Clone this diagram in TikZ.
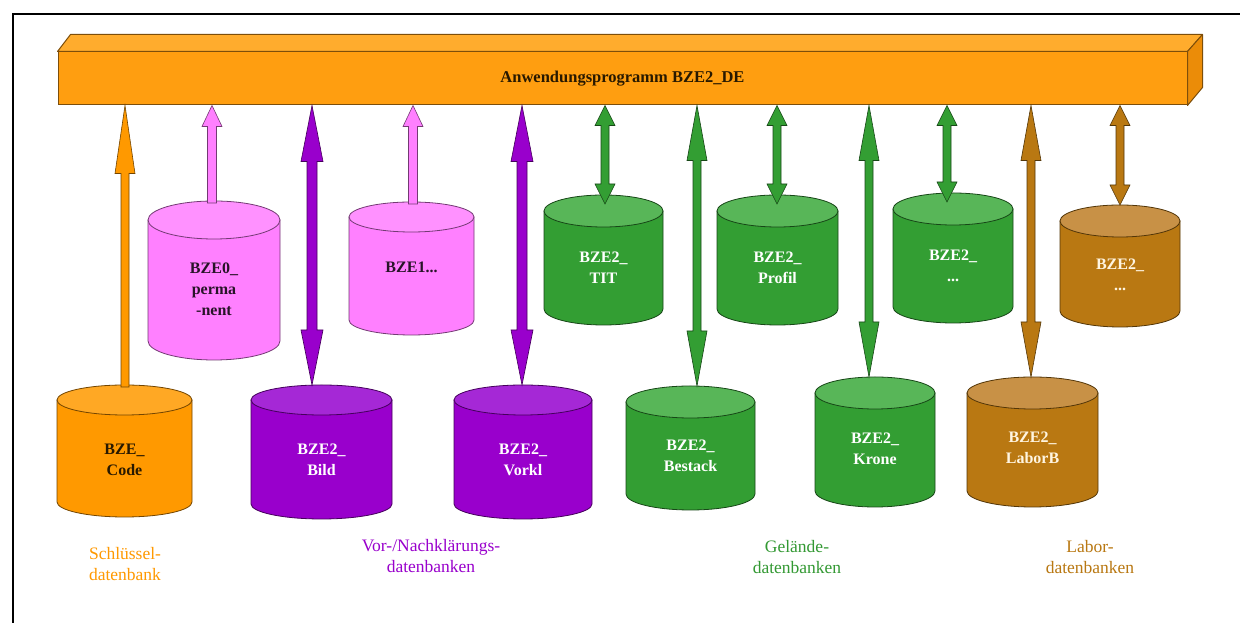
\documentclass[tikz,border=0pt]{standalone}
\usepackage{fontspec}
\setmainfont{Liberation Serif}
\usetikzlibrary{calc}
\definecolor{orgbody}{RGB}{255,153,0}
\definecolor{orgtop}{RGB}{255,168,36}
\definecolor{orgtext}{RGB}{40,25,0}
\definecolor{pnkbody}{RGB}{255,128,255}
\definecolor{pnktop}{RGB}{255,145,255}
\definecolor{pnktext}{RGB}{40,20,40}
\definecolor{prpbody}{RGB}{153,0,204}
\definecolor{prptop}{RGB}{165,40,214}
\definecolor{prptext}{RGB}{255,255,255}
\definecolor{grnbody}{RGB}{51,158,51}
\definecolor{grntop}{RGB}{88,182,88}
\definecolor{grntext}{RGB}{255,255,255}
\definecolor{brnbody}{RGB}{185,120,18}
\definecolor{brntop}{RGB}{200,145,70}
\definecolor{brntext}{RGB}{255,245,225}
\definecolor{barfront}{RGB}{255,158,16}
\definecolor{bartop}{RGB}{255,172,45}
\definecolor{barside}{RGB}{235,140,8}
\definecolor{baredge}{RGB}{125,78,10}
\definecolor{lblorg}{RGB}{255,153,0}
\definecolor{lblprp}{RGB}{153,0,204}
\definecolor{lblgrn}{RGB}{51,153,51}
\definecolor{lblbrn}{RGB}{185,120,18}
\tikzset{
  cyltext/.style={font=\bfseries\fontsize{16}{21}\selectfont, align=center, inner sep=0pt},
  grouplabel/.style={font=\fontsize{17.5}{21.5}\selectfont, align=center, inner sep=0pt},
  barface/.style={draw=baredge, line width=1pt, fill=barfront, minimum width=1129pt,
    minimum height=53pt, inner sep=0pt, font=\bfseries\fontsize{16.5}{20}\selectfont, text=orgtext},
  arrowshape/.style={line width=0.6pt, line join=miter}
}
% #1 name, #2 x left, #3 x right, #4 y top (px), #5 y bottom (px), #6 ry, #7 colour, #8 text y (px), #9 text
\newcommand\dbcyl[9]{%
  \pgfmathsetmacro\cylcx{(#2+#3)/2}%
  \pgfmathsetmacro\cylrx{(#3-#2)/2}%
  \pgfmathsetmacro\cylyt{623-#4-#6}%
  \pgfmathsetmacro\cylyb{623-#5+#6}%
  \filldraw[fill=#7body, draw=#7body!45!black, line width=0.8pt]
    (#2,\cylyt) -- (#2,\cylyb) arc[start angle=180, end angle=360, x radius=\cylrx, y radius=#6]
    -- (#3,\cylyt) -- cycle;
  \filldraw[fill=#7top, draw=#7body!45!black, line width=0.8pt]
    (\cylcx,\cylyt) ellipse[x radius=\cylrx, y radius=#6];
  \coordinate (#1-top) at (\cylcx,{623-#4});
  \node[cyltext, text=#7text] (#1) at (\cylcx,{623-#8}) {#9};
}
% up arrow: #1 cyl top coordinate, #2 x, #3 colour, #4 shaft half width, #5 head half width, #6 head length
\newcommand\arrUp[6]{%
  \filldraw[arrowshape, fill=#3body, draw=#3body!45!black]
    let \p1=(#1), \p2=(bar.south) in
    ({(#2-#4)*1pt},{\y1-2pt}) -- ({(#2-#4)*1pt},{\y2-#6*1pt}) -- ({(#2-#5)*1pt},{\y2-#6*1pt})
    -- ({#2*1pt},\y2) -- ({(#2+#5)*1pt},{\y2-#6*1pt}) -- ({(#2+#4)*1pt},{\y2-#6*1pt})
    -- ({(#2+#4)*1pt},{\y1-2pt}) -- cycle;
}
% double arrow: #1 cyl top, #2 x, #3 colour, #4 shaft hw, #5 head hw, #6 top head len, #7 bottom head len, #8 tip depth
\newcommand\arrBoth[8]{%
  \filldraw[arrowshape, fill=#3body, draw=#3body!45!black]
    let \p1=(#1), \p2=(bar.south) in
    ({#2*1pt},\y2) -- ({(#2+#5)*1pt},{\y2-#6*1pt}) -- ({(#2+#4)*1pt},{\y2-#6*1pt})
    -- ({(#2+#4)*1pt},{\y1-#8*1pt+#7*1pt}) -- ({(#2+#5)*1pt},{\y1-#8*1pt+#7*1pt})
    -- ({#2*1pt},{\y1-#8*1pt})
    -- ({(#2-#5)*1pt},{\y1-#8*1pt+#7*1pt}) -- ({(#2-#4)*1pt},{\y1-#8*1pt+#7*1pt})
    -- ({(#2-#4)*1pt},{\y2-#6*1pt}) -- ({(#2-#5)*1pt},{\y2-#6*1pt}) -- cycle;
}
\begin{document}
\begin{tikzpicture}[x=1pt,y=1pt]
\useasboundingbox (0,0) rectangle (1240,623);
\fill[white] (0,0) rectangle (1240,623);
\draw[line width=1.6pt] (13,0) -- (13,609) -- (1240,609);
% application bar
\node[barface] (bar) at (622.5,544.5) {Anwendungsprogramm BZE2\_DE};
\filldraw[fill=bartop, draw=baredge, line width=1pt, line join=round]
  (bar.north west) -- ++(13,17) -- ([xshift=15pt,yshift=17pt]bar.north east) -- (bar.north east) -- cycle;
\filldraw[fill=barside, draw=baredge, line width=1pt, line join=round]
  (bar.north east) -- ++(15,17) -- ++(0,-53) -- (bar.south east) -- cycle;
% databases
\dbcyl{code}{57}{192}{385}{517}{15}{org}{460}{BZE\_\\Code}
\dbcyl{perm}{148}{280}{201}{360}{19}{pnk}{289}{BZE0\_\\perma\\-nent}
\dbcyl{bild}{251}{392}{385}{519}{15}{prp}{460}{BZE2\_\\Bild}
\dbcyl{bzeone}{349}{474}{202}{335}{15}{pnk}{267}{BZE1...}
\dbcyl{vorkl}{454}{592}{385}{519}{15}{prp}{460}{BZE2\_\\Vorkl}
\dbcyl{tit}{544}{663}{195}{325}{16}{grn}{268}{BZE2\_\\TIT}
\dbcyl{bestand}{626}{755}{386}{510}{16}{grn}{456}{BZE2\_\\Bestack}
\dbcyl{profil}{717}{838}{195}{325}{16}{grn}{268}{BZE2\_\\Profil}
\dbcyl{krone}{815}{935}{377}{507}{16}{grn}{449}{BZE2\_\\Krone}
\dbcyl{gdots}{893}{1013}{193}{323}{16}{grn}{266}{BZE2\_\\...}
\dbcyl{labor}{967}{1098}{377}{507}{16}{brn}{448}{BZE2\_\\LaborB}
\dbcyl{bdots}{1060}{1180}{205}{327}{16}{brn}{275}{BZE2\_\\...}
% connectors
\arrUp{code-top}{125}{org}{4}{10}{68}
\arrUp{perm-top}{212}{pnk}{4.5}{10}{21}
\arrBoth{bild-top}{312}{prp}{5}{11}{56}{55}{0}
\arrUp{bzeone-top}{413}{pnk}{4.5}{10}{21}
\arrBoth{vorkl-top}{522}{prp}{5}{11}{56}{55}{0}
\arrBoth{tit-top}{605}{grn}{4}{10}{20}{20}{9}
\arrBoth{bestand-top}{697}{grn}{4}{10}{55}{55}{0}
\arrBoth{profil-top}{777}{grn}{4}{10}{20}{20}{9}
\arrBoth{krone-top}{869}{grn}{4}{10}{55}{55}{0}
\arrBoth{gdots-top}{947}{grn}{4}{10}{20}{20}{9}
\arrBoth{labor-top}{1031}{brn}{4}{10}{55}{55}{0}
\arrBoth{bdots-top}{1120}{brn}{4}{10}{20}{20}{0}
% group labels
\node[grouplabel, text=lblorg] (lkey) at (125,{623-564}) {Schlüssel-\\datenbank};
\node[grouplabel, text=lblprp] (lvor) at (431,{623-556}) {Vor-/Nachklärungs-\\datenbanken};
\node[grouplabel, text=lblgrn] (lgel) at (797,{623-557}) {Gelände-\\datenbanken};
\node[grouplabel, text=lblbrn] (llab) at (1090,{623-557}) {Labor-\\datenbanken};
\end{tikzpicture}
\end{document}
